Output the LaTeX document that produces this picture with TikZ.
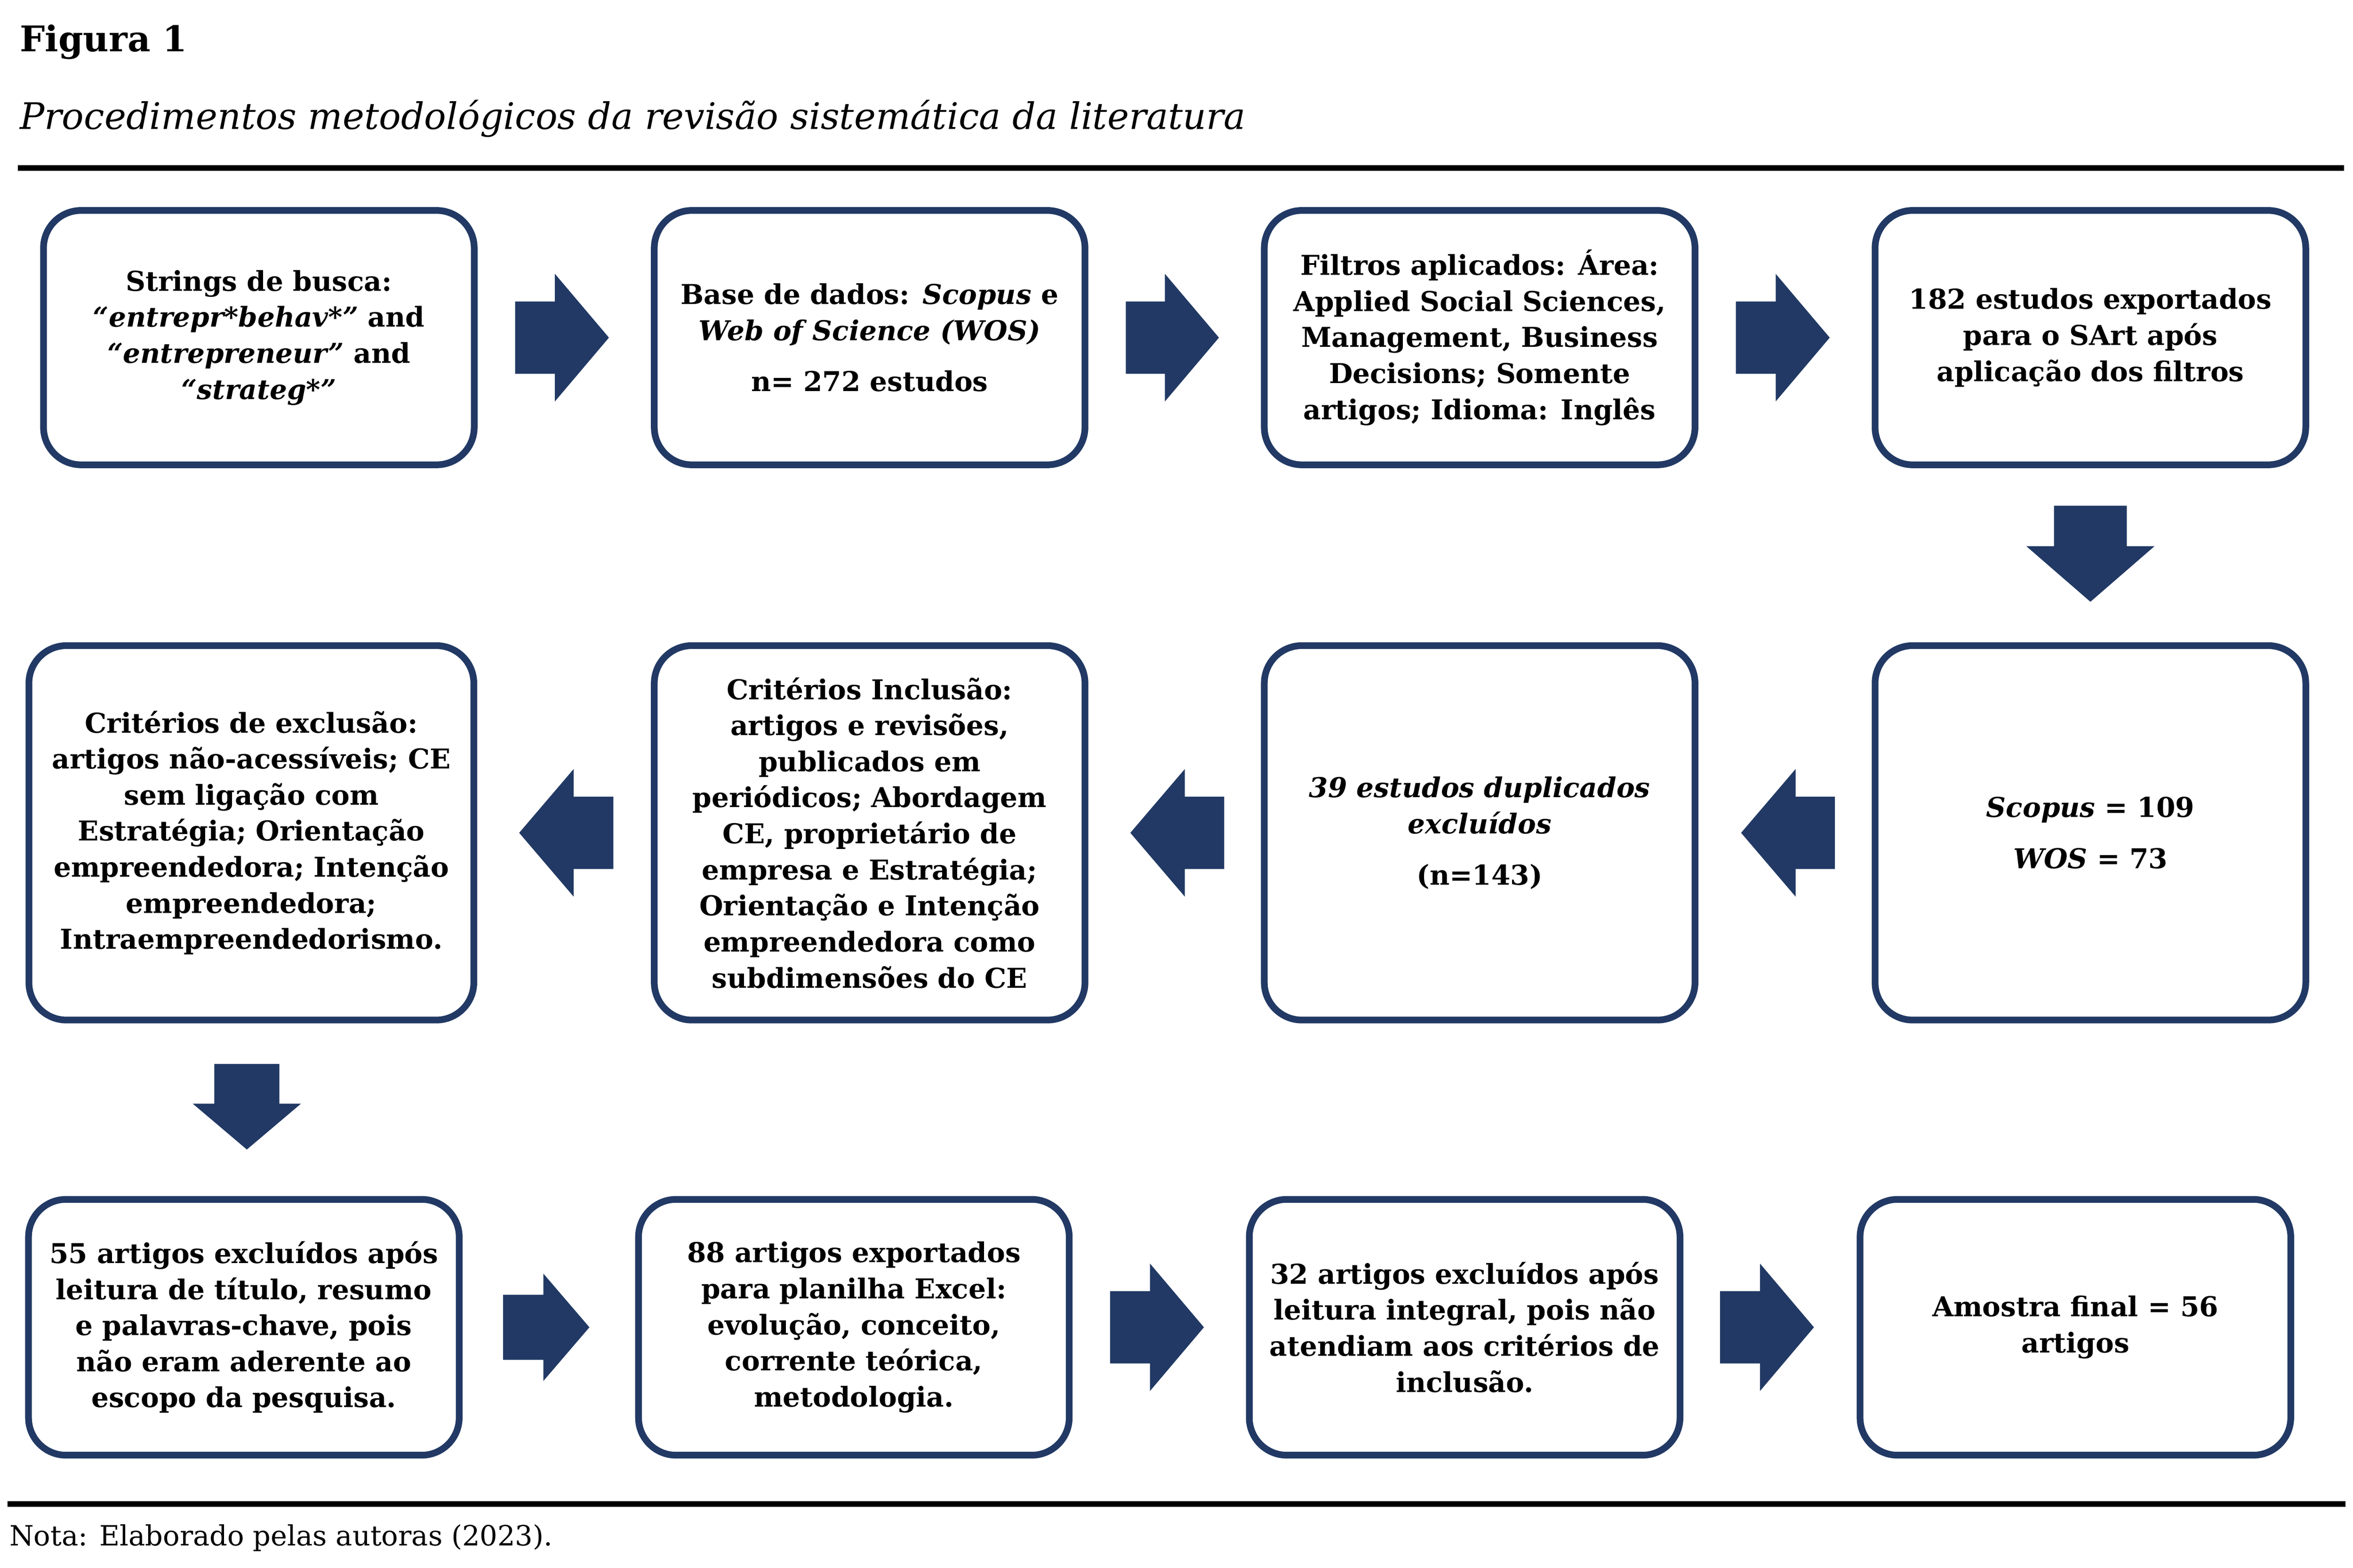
\documentclass[tikz,border=0pt]{standalone}
\usepackage{fontspec}
\setmainfont{DejaVu Serif}
\usetikzlibrary{calc}
\definecolor{navy}{RGB}{33,57,100}
% block arrow from #1 (tail) to #2 (tip); #3 body half width, #4 head half width, #5 head length
\newcommand\blockarr[5]{%
  \coordinate (tmph) at ($(#2)!#5!(#1)$);
  \fill[navy] ($(#1)!#3!90:(#2)$) -- ($(tmph)!#3!90:(#2)$) -- ($(tmph)!#4!90:(#2)$)
    -- (#2) -- ($(tmph)!#4!-90:(#2)$) -- ($(tmph)!#3!-90:(#2)$) -- ($(#1)!#3!-90:(#2)$) -- cycle;}
\tikzset{
  stepbox/.style={draw=navy, line width=1mm, rounded corners=5.6mm, fill=white,
    minimum width=64.21mm, align=center, inner sep=0pt,
    font=\fontsize{11.6}{15.3}\selectfont\bfseries},
  rowa/.style={minimum height=37.92mm},
  rowb/.style={minimum height=55.82mm},
  rowc/.style={minimum height=38.14mm},
  rulestyle/.style={line width=0.8mm, black},
}
\begin{document}
\begin{tikzpicture}[x=0.22372mm,y=-0.22372mm]
\useasboundingbox (0,0) rectangle (1568,1044.8);
\fill[white] (0,0) rectangle (1568,1044.8);

\node[anchor=base west, inner sep=0pt, font=\fontsize{15}{18}\selectfont\bfseries] (fig) at (13,34.5) {Figura 1};
\node[anchor=base west, inner sep=0pt, font=\fontsize{15.5}{18}\selectfont\itshape] (sub) at (13,86) {Procedimentos metodológicos da revisão sistemática da literatura};
\coordinate (t1) at (12,112); \coordinate (t2) at (1562,112);
\draw[rulestyle] (t1) -- (t2);
\coordinate (u1) at (5,1002.2); \coordinate (u2) at (1563,1002.2);
\draw[rulestyle] (u1) -- (u2);
\node[anchor=base west, inner sep=0pt, font=\fontsize{11.8}{14}\selectfont] (nota) at (6,1030) {Nota: Elaborado pelas autoras (2023).};

% row 1
\node[stepbox, rowa] (b1) at (172.5,225) {Strings de busca:\\ \textit{“entrepr*behav*”} and\\ \textit{“entrepreneur”} and\\ \textit{“strateg*”}};
\node[stepbox, rowa] (b2) at (579.5,225) {Base de dados: \textit{Scopus} e\\ \textit{Web of Science (WOS)}\\[6.4pt] n= 272 estudos};
\node[stepbox, rowa] (b3) at (986,225) {Filtros aplicados: Área:\\ Applied Social Sciences,\\ Management, Business\\ Decisions; Somente\\ artigos; Idioma: Inglês};
\node[stepbox, rowa] (b4) at (1393,225) {182 estudos exportados\\ para o SArt após\\ aplicação dos filtros};
% row 2
\node[stepbox, rowb, minimum width=66.33mm] (b5) at (167.5,555) {Critérios de exclusão:\\ artigos não-acessíveis; CE\\ sem ligação com\\ Estratégia; Orientação\\ empreendedora; Intenção\\ empreendedora;\\ Intraempreendedorismo.};
\node[stepbox, rowb] (b6) at (579.5,555) {Critérios Inclusão:\\ artigos e revisões,\\ publicados em\\ periódicos; Abordagem\\ CE, proprietário de\\ empresa e Estratégia;\\ Orientação e Intenção\\ empreendedora como\\ subdimensões do CE};
\node[stepbox, rowb] (b7) at (986,555) {\textit{39 estudos duplicados}\\ \textit{excluídos}\\[6.4pt] (n=143)};
\node[stepbox, rowb] (b8) at (1393,555) {\textit{Scopus} = 109\\[6.3pt] \textit{WOS} = 73};
% row 3
\node[stepbox, rowc] (b9) at (162.5,884.5) {55 artigos excluídos após\\ leitura de título, resumo\\ e palavras-chave, pois\\ não eram aderente ao\\ escopo da pesquisa.};
\node[stepbox, rowc] (b10) at (569,884.5) {88 artigos exportados\\ para planilha Excel:\\ evolução, conceito,\\ corrente teórica,\\ metodologia.};
\node[stepbox, rowc] (b11) at (976,884.5) {32 artigos excluídos após\\ leitura integral, pois não\\ atendiam aos critérios de\\ inclusão.};
\node[stepbox, rowc] (b12) at (1383,884.5) {Amostra final = 56\\ artigos};

% connectors (block arrows)
\coordinate (a1s) at ($(b1.east)+(25,0)$);  \coordinate (a1e) at ($(b2.west)+(-28,0)$);
\coordinate (a2s) at ($(b2.east)+(25,0)$);  \coordinate (a2e) at ($(b3.west)+(-28,0)$);
\coordinate (a3s) at ($(b3.east)+(25,0)$);  \coordinate (a3e) at ($(b4.west)+(-28,0)$);
\coordinate (a4s) at ($(b4.south)+(0,25)$); \coordinate (a4e) at ($(b8.north)+(0,-27)$);
\coordinate (a5s) at ($(b8.west)+(-24.5,0)$); \coordinate (a5e) at ($(b7.east)+(28.5,0)$);
\coordinate (a6s) at ($(b7.west)+(-24.5,0)$); \coordinate (a6e) at ($(b6.east)+(28,0)$);
\coordinate (a7s) at ($(b6.west)+(-25,0)$);   \coordinate (a7e) at ($(b5.east)+(28,0)$);
\coordinate (a8s) at ($(b5.south)+(-3,27)$);  \coordinate (a8e) at ($(b9.north)+(2,-31)$);
\coordinate (a9s) at ($(b9.east)+(27,0)$);    \coordinate (a9e) at ($(b10.west)+(-30.5,0)$);
\coordinate (a10s) at ($(b10.east)+(25,0)$);  \coordinate (a10e) at ($(b11.west)+(-28,0)$);
\coordinate (a11s) at ($(b11.east)+(24.5,0)$); \coordinate (a11e) at ($(b12.west)+(-28.5,0)$);

\blockarr{a1s}{a1e}{5.39mm}{9.51mm}{8.05mm}
\blockarr{a2s}{a2e}{5.39mm}{9.51mm}{8.05mm}
\blockarr{a3s}{a3e}{5.39mm}{9.51mm}{8.05mm}
\blockarr{a4s}{a4e}{5.43mm}{9.55mm}{8.28mm}
\blockarr{a5s}{a5e}{5.39mm}{9.51mm}{8.12mm}
\blockarr{a6s}{a6e}{5.39mm}{9.51mm}{8.12mm}
\blockarr{a7s}{a7e}{5.39mm}{9.51mm}{8.12mm}
\blockarr{a8s}{a8e}{4.85mm}{8.05mm}{6.82mm}
\blockarr{a9s}{a9e}{4.85mm}{8.01mm}{6.87mm}
\blockarr{a10s}{a10e}{5.39mm}{9.51mm}{8.05mm}
\blockarr{a11s}{a11e}{5.39mm}{9.51mm}{8.05mm}
\end{tikzpicture}
\end{document}
